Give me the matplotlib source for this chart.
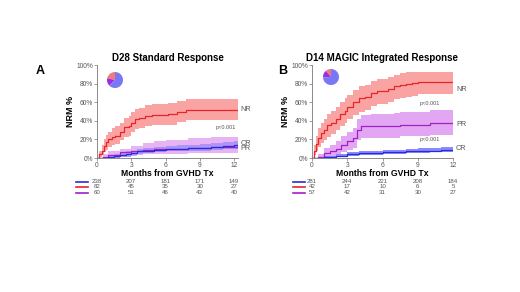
import matplotlib
matplotlib.use("Agg")
import matplotlib.pyplot as plt
import matplotlib.transforms as mtrans
import numpy as np

plt.rcParams["font.family"] = ["Liberation Sans", "DejaVu Sans"]

RED = "#e8262a"
RED_BAND = "#f9a3a3"
BLUE = "#2b2bd6"
BLUE_BAND = "#7d7dff"
PURPLE = "#a21fc8"
PURPLE_BAND = "#e3a6f2"
GRAY = "#555555"

# ---- panel A: D28 standard response ----
a_nr_t = [0, 0.2, 0.4, 0.6, 0.8, 1.0, 1.3, 1.6, 2.0, 2.4, 2.8, 3.0, 3.3, 3.7, 4.2, 4.8, 5.5, 6.2, 7.0, 7.8, 12.35]
a_nr_v = [0, 4, 8, 13, 17, 20, 23, 24, 28, 33, 34, 38, 42, 43, 45, 46, 46, 47, 50, 52, 52]
a_nr_lo = [0, 1, 3, 6, 9, 12, 14, 15, 19, 23, 24, 28, 31, 32, 34, 35, 35, 36, 39, 41, 41]
a_nr_hi = [0, 8, 14, 20, 25, 28, 32, 34, 38, 43, 45, 49, 53, 54, 57, 58, 58, 59, 61, 63, 63]

a_cr_t = [0, 1.0, 1.5, 2.0, 2.5, 3.0, 3.5, 4.0, 5.0, 6.0, 7.0, 8.0, 9.0, 10.0, 11.0, 12.0, 12.35]
a_cr_v = [0, 1, 2, 3, 4, 5, 7, 8, 9, 10, 10, 11, 11, 12, 13, 14, 15]
a_cr_lo = [0, 0, 0, 1, 1, 2, 4, 5, 6, 7, 7, 8, 8, 9, 10, 10, 11]
a_cr_hi = [0, 3, 4, 5, 7, 8, 10, 11, 12, 13, 14, 14, 15, 16, 17, 18, 19]

a_pr_t = [0, 0.5, 1.0, 2.0, 3.0, 4.0, 5.0, 6.0, 8.0, 10.0, 12.35]
a_pr_v = [0, 1, 3, 6, 8, 9, 10, 10, 11, 12, 13]
a_pr_lo = [0, 0, 0, 1, 3, 4, 4, 4, 5, 5, 6]
a_pr_hi = [0, 4, 8, 10, 13, 16, 18, 19, 21, 23, 24]

a_risk = [[238, 207, 181, 171, 149], [82, 45, 35, 30, 27], [60, 51, 46, 43, 40]]
a_pie = [82, 60, 238]  # NR, PR, CR

# ---- panel B: D14 MAGIC integrated response ----
b_nr_t = [0, 0.15, 0.3, 0.5, 0.8, 1.0, 1.3, 1.6, 2.0, 2.4, 2.8, 3.0, 3.5, 4.0, 4.5, 5.0, 5.5, 6.0, 6.5, 7.0, 7.5, 8.0, 8.5, 9.0, 12]
b_nr_v = [0, 8, 15, 22, 27, 30, 35, 38, 42, 47, 51, 55, 60, 64, 66, 70, 72, 72, 74, 77, 79, 80, 81, 82, 82]
b_nr_lo = [0, 3, 7, 12, 16, 19, 23, 26, 30, 34, 38, 42, 46, 50, 52, 56, 58, 58, 60, 63, 65, 66, 67, 69, 69]
b_nr_hi = [0, 14, 24, 32, 38, 42, 47, 51, 55, 60, 64, 68, 73, 77, 79, 83, 85, 85, 87, 89, 91, 92, 92, 93, 93]

b_pr_t = [0, 0.5, 1.0, 1.5, 2.0, 2.5, 3.0, 3.5, 3.8, 4.2, 5.0, 7.0, 7.5, 9.0, 10.0, 12]
b_pr_v = [0, 1, 5, 7, 10, 14, 18, 21, 30, 34, 34, 34, 36, 36, 38, 38]
b_pr_lo = [0, 0, 1, 2, 4, 6, 9, 11, 19, 22, 22, 22, 24, 24, 25, 25]
b_pr_hi = [0, 4, 11, 14, 18, 24, 28, 32, 42, 46, 47, 48, 50, 50, 52, 52]

b_cr_t = [0, 1.0, 2.0, 3.0, 4.0, 5.0, 6.0, 7.0, 8.0, 9.0, 10.0, 11.0, 12]
b_cr_v = [0, 1, 2, 4, 5, 5, 6, 6, 7, 8, 8, 9, 9]
b_cr_lo = [0, 0, 1, 2, 3, 3, 4, 4, 5, 5, 6, 6, 6]
b_cr_hi = [0, 2, 4, 6, 7, 8, 9, 9, 10, 11, 11, 12, 12]

b_risk = [[281, 244, 221, 208, 184], [42, 17, 10, 6, 5], [57, 42, 31, 30, 27]]
b_pie = [42, 57, 281]

risk_times = [0, 3, 6, 9, 12]
x_ticks = [0, 3, 6, 9, 12]
y_ticks = [0, 20, 40, 60, 80, 100]


def curve(ax, t, v, lo, hi, color, band, alpha=1.0) -> None:
    ax.fill_between(t, lo, hi, step="post", color=band, alpha=alpha, lw=0)
    ax.step(t, v, where="post", color=color, lw=0.9)


def risk_table(fig, ax, rows, line_x) -> None:
    trans = mtrans.blended_transform_factory(ax.transData, fig.transFigure)
    row_y = [1 - 181.5 / 292, 1 - 187 / 292, 1 - 192.5 / 292]
    for row, y, c in zip(rows, row_y, [BLUE, RED, PURPLE]):
        fig.add_artist(plt.Line2D([line_x / 520, (line_x + 12) / 520], [y, y],
                                  color=c, lw=1.2, transform=fig.transFigure))
        for t, n in zip(risk_times, row):
            fig.text(t, y, str(n), transform=trans, ha="center", va="center",
                     fontsize=4.4, color=GRAY)


def style_axes(ax, title, xmax) -> None:
    ax.set_xlim(0, xmax)
    ax.set_ylim(0, 100)
    ax.set_xticks(x_ticks)
    ax.set_yticks(y_ticks)
    ax.set_yticklabels([f"{y}%" for y in y_ticks])
    for s in ["top", "right"]:
        ax.spines[s].set_visible(False)
    for s in ["left", "bottom"]:
        ax.spines[s].set_color("#777777")
        ax.spines[s].set_linewidth(0.6)
    ax.tick_params(labelsize=4.8, colors="#777777", labelcolor=GRAY, length=2, width=0.5, pad=1)
    ax.set_xlabel("Months from GVHD Tx", fontsize=6.2, fontweight="bold", labelpad=0)
    ax.set_ylabel("NRM %", fontsize=6.5, fontweight="bold", labelpad=1)
    ax.set_title(title, fontsize=7.0, fontweight="bold", pad=3)


def pie(fig, cx, cy, vals) -> None:
    pa = fig.add_axes([(cx - 10) / 520, 1 - (cy + 10) / 292, 20 / 520, 20 / 292])
    pa.pie(vals, colors=["#f27a7a", "#9a2ee0", "#7878f5"], startangle=90, counterclock=True)
    pa.set_aspect("equal")


fig = plt.figure(figsize=(5.2, 2.92), dpi=100)
fig.patch.set_facecolor("white")

axA = fig.add_axes([97 / 520, 1 - 158 / 292, 141 / 520, 93 / 292])
curve(axA, a_nr_t, a_nr_v, a_nr_lo, a_nr_hi, RED, RED_BAND)
curve(axA, a_pr_t, a_pr_v, a_pr_lo, a_pr_hi, PURPLE, PURPLE_BAND, 0.85)
curve(axA, a_cr_t, a_cr_v, a_cr_lo, a_cr_hi, BLUE, BLUE_BAND, 0.55)
style_axes(axA, "D28 Standard Response", 12.35)
axA.text(11.3, 33, "p<0.001", fontsize=4, ha="center", va="center", color=GRAY)
for lab, y in [("NR", 52), ("CR", 16), ("PR", 10)]:
    axA.text(12.6, y, lab, fontsize=5.2, ha="left", va="center", color=GRAY)
risk_table(fig, axA, a_risk, 76)
pie(fig, 115, 80, a_pie)
fig.text(40 / 520, 1 - 71 / 292, "A", fontsize=9, fontweight="bold", ha="center", va="center")

axB = fig.add_axes([312 / 520, 1 - 158 / 292, 141 / 520, 93 / 292])
curve(axB, b_nr_t, b_nr_v, b_nr_lo, b_nr_hi, RED, RED_BAND)
curve(axB, b_pr_t, b_pr_v, b_pr_lo, b_pr_hi, PURPLE, PURPLE_BAND)
curve(axB, b_cr_t, b_cr_v, b_cr_lo, b_cr_hi, BLUE, BLUE_BAND, 0.9)
style_axes(axB, "D14 MAGIC Integrated Response", 12)
axB.text(10.0, 59, "p<0.001", fontsize=4, ha="center", va="center", color=GRAY)
axB.text(10.0, 20, "p<0.001", fontsize=4, ha="center", va="center", color=GRAY)
for lab, y in [("NR", 74), ("PR", 36), ("CR", 10)]:
    axB.text(12.25, y, lab, fontsize=5.2, ha="left", va="center", color=GRAY)
risk_table(fig, axB, b_risk, 293)
pie(fig, 331, 77, b_pie)
fig.text(283 / 520, 1 - 71 / 292, "B", fontsize=9, fontweight="bold", ha="center", va="center")

fig.savefig("out.png", dpi=100)
